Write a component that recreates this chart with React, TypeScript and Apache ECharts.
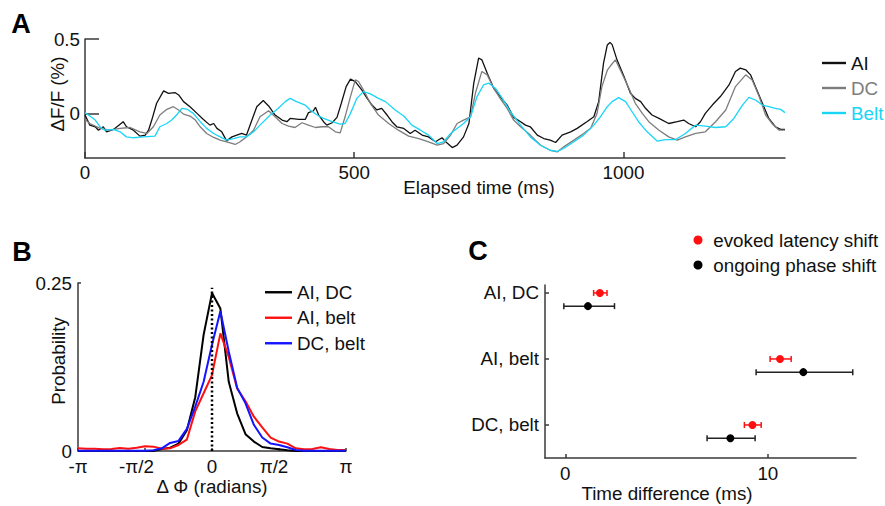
import React, { useEffect, useRef } from "react";
import * as echarts from "echarts";

const FONT = "'Liberation Sans', Arial, Helvetica, sans-serif";
const FS = 18.8;

// ---------- Panel A: dF/F traces (time in ms, value in %) ----------
const traceNames = ["AI", "DC", "Belt"];
const traceColors = ["#111111", "#7d7d7d", "#19d5f7"];
const timeTicks = [0, 500, 1000];
const dffTicks = [0, 0.5];

const aiTrace = [[0,-0.011],[9,-0.079],[19,-0.09],[25,-0.113],[34,-0.09],[40,-0.124],[53,-0.108],[71,-0.056],[77,-0.09],[90,-0.113],[102,-0.153],[112,-0.146],[118,-0.113],[124,-0.045],[133,0.068],[146,0.151],[155,0.135],[167,0.14],[174,0.124],[183,0.079],[195,0.045],[208,0],[220,-0.041],[232,-0.079],[239,-0.068],[245,-0.101],[254,-0.124],[263,-0.185],[273,-0.158],[282,-0.146],[291,-0.135],[300,-0.146],[310,-0.045],[319,0.045],[331,0.086],[341,0.05],[353,-0.011],[366,-0.045],[375,-0.056],[381,-0.034],[397,-0.041],[409,-0.041],[415,0.005],[424,0.016],[428,0.041],[434,-0.011],[443,-0.056],[449,-0.079],[459,-0.063],[468,-0.027],[476,0.068],[485,0.18],[493,0.23],[502,0.214],[514,0.158],[524,0.101],[533,0.056],[542,0.023],[551,0.034],[561,-0.011],[570,-0.056],[579,-0.09],[592,-0.101],[604,-0.135],[613,-0.113],[626,-0.146],[638,-0.158],[651,-0.191],[663,-0.164],[672,-0.198],[682,-0.23],[691,-0.214],[703,-0.158],[713,-0.068],[722,0.203],[731,0.372],[737,0.36],[747,0.27],[759,0.169],[771,0.113],[784,0.056],[796,-0.027],[809,-0.056],[818,-0.079],[827,-0.09],[840,-0.146],[852,-0.169],[864,-0.18],[874,-0.196],[886,-0.146],[902,-0.124],[914,-0.101],[932,-0.056],[945,-0.023],[954,0.079],[963,0.338],[970,0.46],[975,0.477],[979,0.462],[988,0.36],[1001,0.248],[1013,0.135],[1022,0.101],[1032,0.079],[1041,0.034],[1053,-0.011],[1066,-0.034],[1084,-0.068],[1100,-0.056],[1112,-0.045],[1121,-0.068],[1134,-0.09],[1143,-0.056],[1152,0],[1165,0.056],[1180,0.113],[1196,0.191],[1208,0.282],[1217,0.304],[1227,0.293],[1236,0.259],[1245,0.18],[1258,0.068],[1270,-0.034],[1282,-0.09],[1292,-0.108],[1300,-0.108]];

const dcTrace = [[0,-0.041],[9,-0.068],[28,-0.101],[46,-0.113],[65,-0.101],[84,-0.095],[102,-0.124],[115,-0.135],[127,-0.09],[139,-0.011],[152,0.027],[164,0.045],[174,0.023],[183,-0.005],[195,-0.018],[205,-0.045],[214,-0.09],[226,-0.135],[239,-0.162],[251,-0.18],[263,-0.191],[279,-0.209],[288,-0.191],[300,-0.158],[313,-0.113],[325,-0.023],[341,0.018],[353,-0.023],[366,-0.068],[378,-0.086],[390,-0.095],[403,-0.063],[415,-0.079],[428,-0.095],[440,-0.09],[452,-0.09],[465,-0.124],[474,-0.131],[483,-0.023],[493,0.113],[502,0.225],[508,0.214],[517,0.158],[530,0.068],[545,-0.011],[564,-0.068],[582,-0.113],[601,-0.153],[620,-0.169],[638,-0.191],[654,-0.214],[666,-0.203],[679,-0.146],[691,-0.068],[703,-0.045],[716,-0.023],[725,0.135],[737,0.282],[747,0.259],[759,0.169],[771,0.101],[784,0.034],[796,-0.045],[809,-0.09],[827,-0.146],[846,-0.214],[864,-0.248],[877,-0.259],[889,-0.225],[908,-0.18],[926,-0.135],[939,-0.101],[951,0],[960,0.18],[970,0.29],[976,0.32],[985,0.36],[997,0.27],[1010,0.169],[1022,0.068],[1035,0],[1047,-0.056],[1066,-0.113],[1084,-0.158],[1100,-0.18],[1115,-0.158],[1134,-0.135],[1152,-0.124],[1171,-0.056],[1190,0.023],[1208,0.18],[1227,0.259],[1239,0.225],[1252,0.113],[1264,-0.011],[1276,-0.068],[1289,-0.113],[1300,-0.113]];

const beltTrace = [[0,0.005],[9,-0.018],[19,-0.045],[28,-0.09],[37,-0.113],[53,-0.108],[65,-0.124],[77,-0.158],[90,-0.164],[108,-0.158],[130,-0.153],[139,-0.09],[152,-0.068],[161,-0.045],[170,-0.011],[180,0.034],[189,0.029],[201,0],[214,-0.056],[226,-0.101],[239,-0.135],[251,-0.158],[263,-0.18],[276,-0.169],[288,-0.158],[300,-0.158],[313,-0.124],[325,-0.079],[344,-0.011],[359,0.034],[372,0.079],[381,0.101],[393,0.079],[409,0.056],[418,0.023],[431,-0.011],[443,-0.034],[459,-0.056],[474,-0.072],[483,-0.068],[493,0],[505,0.101],[517,0.146],[530,0.131],[545,0.101],[558,0.079],[576,0.023],[592,-0.018],[607,-0.079],[623,-0.113],[638,-0.146],[654,-0.203],[666,-0.191],[679,-0.135],[691,-0.101],[703,-0.068],[716,-0.023],[728,0.113],[740,0.191],[750,0.203],[762,0.169],[775,0.101],[790,0.011],[809,-0.079],[827,-0.158],[846,-0.214],[864,-0.248],[877,-0.255],[889,-0.236],[908,-0.191],[926,-0.146],[945,-0.079],[957,-0.023],[970,0.045],[979,0.079],[991,0.106],[1004,0.079],[1016,0.011],[1028,-0.056],[1044,-0.124],[1063,-0.187],[1078,-0.176],[1097,-0.176],[1115,-0.135],[1134,-0.079],[1152,-0.086],[1171,-0.095],[1190,-0.09],[1205,-0.034],[1221,0.056],[1233,0.108],[1245,0.09],[1258,0.056],[1270,0.045],[1282,0.034],[1292,0.027],[1300,0.005]];

// ---------- Panel B: phase-difference histograms ----------
const pairNames = ["AI, DC", "AI, belt", "DC, belt"];
const pairColors = ["#000000", "#ff1010", "#1414ff"];
// bin centres: -pi .. pi in steps of pi/16
const phaseBins = Array.from({ length: 33 }, (_, i) => ((i - 16) * Math.PI) / 16);
const probAIDC = [0,0,0,0,0,0,0,0,0,0,0.003,0.005,0.011,0.031,0.08,0.173,0.235,0.212,0.103,0.056,0.025,0.014,0.006,0.004,0.0025,0.001,0,0,0,0,0,0,0];
const probAIBelt = [0.004,0.0035,0.0035,0.0025,0.003,0.0045,0.0035,0.005,0.007,0.0065,0.0035,0.004,0.009,0.017,0.059,0.086,0.113,0.175,0.14,0.093,0.074,0.051,0.035,0.02,0.014,0.011,0.004,0.0025,0.003,0.0055,0.003,0.0015,0.0015];
const probDCBelt = [0.0005,0.0005,0.0005,0.0005,0.0005,0.0005,0.0005,0.0005,0.0005,0.001,0.004,0.012,0.015,0.033,0.066,0.103,0.158,0.208,0.148,0.094,0.071,0.039,0.02,0.011,0.009,0.0055,0.0015,0.0005,0.0005,0.0005,0.0005,0.0005,0.0005];
const phaseTickValues = [-Math.PI, -Math.PI / 2, 0, Math.PI / 2, Math.PI];
const phaseTickLabels = ["-π", "-π/2", "0", "π/2", "π"];
const probTicks = [0, 0.25];
const zeroLine = [[0, 0], [0, 0.243]];

// ---------- Panel C: time differences ----------
const shiftCategories = ["AI, DC", "AI, belt", "DC, belt"];
const shiftNames = ["evoked latency shift", "ongoing phase shift"];
const evokedMean = [1.71, 10.6, 9.24];
const evokedLow = [1.4, 10.11, 8.84];
const evokedHigh = [2.06, 11.15, 9.67];
const ongoingMean = [1.12, 11.75, 8.15];
const ongoingLow = [-0.07, 9.42, 7.0];
const ongoingHigh = [2.43, 14.19, 9.37];
const timeDiffTicks = [0, 10];
const catTicks = [0, 1, 2];

const axisLine = { show: true, onZero: false, lineStyle: { color: "#3a3a3a", width: 1.5 } };
const tickStyle = { color: "#3a3a3a", width: 1.5 };
const labelFont = { fontFamily: FONT, fontSize: FS, color: "#111" };
const plain = (v: number) => String(v);

function buildOption() {
  const ongoingOffset = 0.2;
  const catY = (i: number) => shiftCategories.length - 1 - i;
  const evokedPts = evokedMean.map((m, i) => [m, catY(i)]);
  const ongoingPts = ongoingMean.map((m, i) => [m, catY(i) - ongoingOffset]);
  const evokedErr = evokedMean.map((m, i) => [m, evokedLow[i], evokedHigh[i], catY(i)]);
  const ongoingErr = ongoingMean.map((m, i) => [m, ongoingLow[i], ongoingHigh[i], catY(i) - ongoingOffset]);

  const errRender = (color: string) => (params: any, api: any) => {
    const y = api.value(3);
    const p1 = api.coord([api.value(1), y]);
    const p2 = api.coord([api.value(2), y]);
    const h = 3;
    const st = { stroke: color, lineWidth: 1.5 };
    return {
      type: "group",
      children: [
        { type: "line", shape: { x1: p1[0], y1: p1[1], x2: p2[0], y2: p2[1] }, style: st },
        { type: "line", shape: { x1: p1[0], y1: p1[1] - h, x2: p1[0], y2: p1[1] + h }, style: st },
        { type: "line", shape: { x1: p2[0], y1: p2[1] - h, x2: p2[0], y2: p2[1] + h }, style: st },
      ],
    };
  };

  const traceData = [aiTrace, dcTrace, beltTrace];
  const probData = [probAIDC, probAIBelt, probDCBelt];

  const panelLabel = (t: string, x: number, y: number) => ({
    type: "text", x, y,
    style: { text: t, font: `bold 27px ${FONT}`, fill: "#000", align: "center", verticalAlign: "middle" },
  });
  const title = (t: string, x: number, y: number, rot = 0) => ({
    type: "text", x, y, rotation: rot,
    style: { text: t, font: `${FS}px ${FONT}`, fill: "#111", align: "center", verticalAlign: "middle" },
  });

  // rich-text keys shift the fraction labels slightly left, as in the original figure
  const phaseRich = ["p", "h", "z", "q", "p"];
  const richBase = { fontFamily: FONT, fontSize: FS, color: "#111", lineHeight: 14 };

  return {
    animation: false,
    backgroundColor: "#ffffff",
    grid: [
      { left: 85, top: 39, width: 700, height: 119 },
      { left: 78, top: 283, width: 268, height: 168 },
      { left: 545, top: 285, width: 311, height: 173 },
    ],
    xAxis: [
      {
        gridIndex: 0, type: "value", min: 0, max: 1300,
        axisLine, splitLine: { show: false },
        axisTick: { show: true, inside: true, length: 6, customValues: timeTicks, lineStyle: tickStyle },
        axisLabel: { customValues: timeTicks, margin: 5, ...labelFont, formatter: plain },
      },
      {
        gridIndex: 1, type: "value", min: -Math.PI, max: Math.PI,
        axisLine, splitLine: { show: false },
        axisTick: { show: true, inside: true, length: 3, customValues: phaseTickValues, lineStyle: tickStyle },
        axisLabel: {
          customValues: phaseTickValues, margin: 8, ...labelFont, lineHeight: 14,
          formatter: (v: number) => {
            const i = phaseTickValues.findIndex((t) => Math.abs(t - v) < 1e-6);
            return i >= 0 ? `{${phaseRich[i]}|${phaseTickLabels[i]}}` : "";
          },
          rich: {
            p: { ...richBase },
            h: { ...richBase, padding: [0, 17, 0, 0] },
            z: { ...richBase },
            q: { ...richBase, padding: [0, 10, 0, 0] },
          },
        },
      },
      {
        gridIndex: 2, type: "value", min: -1, max: 14.35,
        axisLine, splitLine: { show: false },
        axisTick: { show: true, inside: true, length: 4, customValues: timeDiffTicks, lineStyle: tickStyle },
        axisLabel: { customValues: timeDiffTicks, margin: 6, ...labelFont, formatter: plain },
      },
    ],
    yAxis: [
      {
        gridIndex: 0, type: "value", min: -0.3, max: 0.5,
        axisLine, splitLine: { show: false },
        axisTick: { show: true, inside: true, length: 14, customValues: dffTicks, lineStyle: tickStyle },
        axisLabel: { customValues: dffTicks, margin: 5, ...labelFont, formatter: plain },
      },
      {
        gridIndex: 1, type: "value", min: 0, max: 0.25,
        axisLine, splitLine: { show: false },
        axisTick: { show: true, inside: true, length: 3, customValues: probTicks, lineStyle: tickStyle },
        axisLabel: { customValues: probTicks, margin: 6, ...labelFont, lineHeight: 14, formatter: plain },
      },
      {
        gridIndex: 2, type: "value", min: -0.5, max: 2.12,
        axisLine, splitLine: { show: false },
        axisTick: { show: true, inside: true, length: 4, customValues: catTicks, lineStyle: tickStyle },
        axisLabel: {
          customValues: catTicks, margin: 6, ...labelFont,
          formatter: (v: number) => shiftCategories[shiftCategories.length - 1 - Math.round(v)] ?? "",
        },
      },
    ],
    legend: [
      {
        data: traceNames.map((n, i) => ({ name: n, icon: "rect", textStyle: { color: traceColors[i] } })),
        orient: "vertical", left: 822, top: 50.5, padding: 0, itemGap: 0,
        itemWidth: 24, itemHeight: 2.4, selectedMode: false,
        textStyle: { fontFamily: FONT, fontSize: FS, lineHeight: 25 },
      },
      {
        data: pairNames.map((n) => ({ name: n, icon: "rect" })),
        orient: "vertical", left: 265, top: 279.5, padding: 0, itemGap: 0,
        itemWidth: 27, itemHeight: 2.4, selectedMode: false,
        textStyle: { fontFamily: FONT, fontSize: FS, lineHeight: 25.5, color: "#111" },
      },
      {
        data: shiftNames.map((n) => ({ name: n, icon: "circle" })),
        orient: "vertical", left: 693.5, top: 227.5, padding: 0, itemGap: 0,
        itemWidth: 20.5, itemHeight: 9, selectedMode: false,
        textStyle: { fontFamily: FONT, fontSize: FS, lineHeight: 25, color: "#111" },
      },
    ],
    graphic: [
      panelLabel("A", 21, 24),
      panelLabel("B", 22, 252),
      panelLabel("C", 478, 251),
      title("ΔF/F (%)", 57, 94, Math.PI / 2),
      title("Elapsed time (ms)", 479, 187),
      title("Probability", 58, 361, Math.PI / 2),
      title("Δ Φ (radians)", 212, 486),
      title("Time difference (ms)", 667, 493),
    ],
    series: [
      ...traceNames.map((n, i) => ({
        name: n, type: "line", xAxisIndex: 0, yAxisIndex: 0,
        data: traceData[i], showSymbol: false, symbol: "none",
        lineStyle: { color: traceColors[i], width: 1.3 }, itemStyle: { color: traceColors[i] },
      })),
      ...pairNames.map((n, i) => ({
        name: n, type: "line", xAxisIndex: 1, yAxisIndex: 1,
        data: probData[i].map((p, k) => [phaseBins[k], p]), showSymbol: false, symbol: "none",
        lineStyle: { color: pairColors[i], width: 2 }, itemStyle: { color: pairColors[i] },
      })),
      {
        name: "zero", type: "line", xAxisIndex: 1, yAxisIndex: 1, data: zeroLine,
        showSymbol: false, symbol: "none", silent: true, z: 5,
        lineStyle: { color: "#000", width: 2.5, type: [2, 2.5] },
      },
      {
        name: "evoked err", type: "custom", xAxisIndex: 2, yAxisIndex: 2,
        data: evokedErr, renderItem: errRender("#ff1010"), encode: { x: [1, 2], y: 3 }, z: 2,
      },
      {
        name: "ongoing err", type: "custom", xAxisIndex: 2, yAxisIndex: 2,
        data: ongoingErr, renderItem: errRender("#222222"), encode: { x: [1, 2], y: 3 }, z: 2,
      },
      {
        name: shiftNames[0], type: "scatter", xAxisIndex: 2, yAxisIndex: 2, data: evokedPts,
        symbol: "circle", symbolSize: 8, itemStyle: { color: "#ff1010", opacity: 1 }, z: 3,
      },
      {
        name: shiftNames[1], type: "scatter", xAxisIndex: 2, yAxisIndex: 2, data: ongoingPts,
        symbol: "circle", symbolSize: 8, itemStyle: { color: "#000000", opacity: 1 }, z: 3,
      },
    ],
  };
}

export default function App() {
  const ref = useRef<HTMLDivElement>(null);
  useEffect(() => {
    if (!ref.current) return;
    const chart = echarts.init(ref.current, undefined, { renderer: "svg" });
    chart.setOption(buildOption() as any);
    return () => chart.dispose();
  }, []);
  return (
    <div
      ref={ref}
      style={{ position: "absolute", left: 0, top: 0, width: 885, height: 506, background: "#fff" }}
    />
  );
}
